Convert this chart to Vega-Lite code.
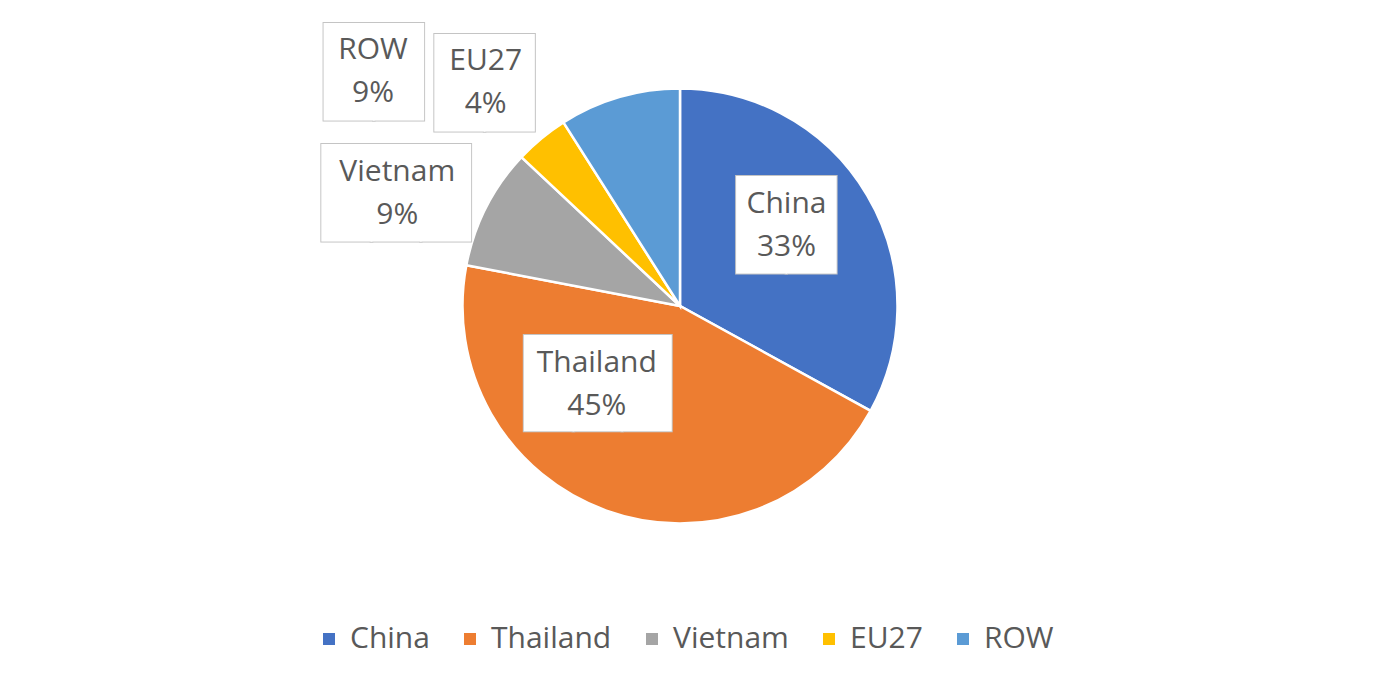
{
  "$schema": "https://vega.github.io/schema/vega-lite/v6.json",
  "width": 1360,
  "height": 612,
  "autosize": {"type": "none"},
  "padding": {"left": 0, "top": 0, "right": 35, "bottom": 66},
  "background": "white",
  "config": {"view": {"stroke": null}},
  "data": {
    "values": [
      {"country": "China", "share": 33, "order": 1, "label": "China\n33%"},
      {"country": "Thailand", "share": 45, "order": 2, "label": "Thailand\n45%"},
      {"country": "Vietnam", "share": 9, "order": 3, "label": "Vietnam\n9%"},
      {"country": "EU27", "share": 4, "order": 4, "label": "EU27\n4%"},
      {"country": "ROW", "share": 9, "order": 5, "label": "ROW\n9%"}
    ]
  },
  "encoding": {
    "theta": {"field": "share", "type": "quantitative", "stack": true},
    "order": {"field": "order", "type": "quantitative"},
    "detail": {"field": "country", "type": "nominal"}
  },
  "layer": [
    {
      "mark": {"type": "arc", "radius": 217.5, "stroke": "white", "strokeWidth": 2.5},
      "encoding": {
        "color": {
          "field": "country",
          "type": "nominal",
          "scale": {
            "domain": ["China", "Thailand", "Vietnam", "EU27", "ROW"],
            "range": ["#4472C4", "#ED7D31", "#A5A5A5", "#FFC000", "#5B9BD5"]
          },
          "legend": {
            "orient": "none",
            "direction": "horizontal",
            "legendX": 314,
            "legendY": 624,
            "title": null,
            "symbolType": "square",
            "symbolSize": 144,
            "symbolStrokeWidth": 0,
            "labelFont": "Open Sans",
            "labelFontSize": 30,
            "labelColor": "#595959",
            "columnPadding": 25,
            "labelOffset": 6
          }
        }
      }
    },
    {
      "mark": {"type": "text", "radius": 133, "dx": -8, "dy": -10, "font": "DejaVu Sans Mono", "fontSize": 82, "fill": "#c4c4c4", "stroke": "#c4c4c4", "strokeWidth": 2, "align": "center", "baseline": "middle"},
      "encoding": {"text": {"condition": {"test": "datum.country === 'China'", "value": "██"}, "value": ""}}
    },
    {
      "mark": {"type": "text", "radius": 133, "dx": -8, "dy": -10, "font": "DejaVu Sans Mono", "fontSize": 82, "fill": "white", "align": "center", "baseline": "middle"},
      "encoding": {"text": {"condition": {"test": "datum.country === 'China'", "value": "██"}, "value": ""}}
    },
    {
      "mark": {"type": "text", "radius": 101, "dx": -48, "dy": -14, "font": "DejaVu Sans Mono", "fontSize": 81, "fill": "#c4c4c4", "stroke": "#c4c4c4", "strokeWidth": 2, "align": "center", "baseline": "middle"},
      "encoding": {"text": {"condition": {"test": "datum.country === 'Thailand'", "value": "███"}, "value": ""}}
    },
    {
      "mark": {"type": "text", "radius": 101, "dx": -48, "dy": -14, "font": "DejaVu Sans Mono", "fontSize": 81, "fill": "white", "align": "center", "baseline": "middle"},
      "encoding": {"text": {"condition": {"test": "datum.country === 'Thailand'", "value": "███"}, "value": ""}}
    },
    {
      "mark": {"type": "text", "radius": 305, "dx": -12, "dy": 28, "font": "DejaVu Sans Mono", "fontSize": 82, "fill": "#c4c4c4", "stroke": "#c4c4c4", "strokeWidth": 2, "align": "center", "baseline": "middle"},
      "encoding": {"text": {"condition": {"test": "datum.country === 'Vietnam'", "value": "███"}, "value": ""}}
    },
    {
      "mark": {"type": "text", "radius": 305, "dx": -12, "dy": 28, "font": "DejaVu Sans Mono", "fontSize": 82, "fill": "white", "align": "center", "baseline": "middle"},
      "encoding": {"text": {"condition": {"test": "datum.country === 'Vietnam'", "value": "███"}, "value": ""}}
    },
    {
      "mark": {"type": "text", "radius": 297, "dx": -6, "dy": 9, "font": "DejaVu Sans Mono", "fontSize": 82, "fill": "#c4c4c4", "stroke": "#c4c4c4", "strokeWidth": 2, "align": "center", "baseline": "middle"},
      "encoding": {"text": {"condition": {"test": "datum.country === 'EU27'", "value": "██"}, "value": ""}}
    },
    {
      "mark": {"type": "text", "radius": 297, "dx": -6, "dy": 9, "font": "DejaVu Sans Mono", "fontSize": 82, "fill": "white", "align": "center", "baseline": "middle"},
      "encoding": {"text": {"condition": {"test": "datum.country === 'EU27'", "value": "██"}, "value": ""}}
    },
    {
      "mark": {"type": "text", "radius": 312, "dx": -219, "dy": 69, "font": "DejaVu Sans Mono", "fontSize": 82, "fill": "#c4c4c4", "stroke": "#c4c4c4", "strokeWidth": 2, "align": "center", "baseline": "middle"},
      "encoding": {"text": {"condition": {"test": "datum.country === 'ROW'", "value": "██"}, "value": ""}}
    },
    {
      "mark": {"type": "text", "radius": 312, "dx": -219, "dy": 69, "font": "DejaVu Sans Mono", "fontSize": 82, "fill": "white", "align": "center", "baseline": "middle"},
      "encoding": {"text": {"condition": {"test": "datum.country === 'ROW'", "value": "██"}, "value": ""}}
    },
    {
      "mark": {"type": "text", "radius": 133, "dx": -8, "dy": -34, "font": "Open Sans", "fontSize": 30, "lineHeight": 43, "lineBreak": "\n", "fill": "#595959", "align": "center", "baseline": "middle"},
      "encoding": {"text": {"condition": {"test": "datum.country === 'China'", "field": "label"}, "value": ""}}
    },
    {
      "mark": {"type": "text", "radius": 101, "dx": -49, "dy": -38, "font": "Open Sans", "fontSize": 30, "lineHeight": 43, "lineBreak": "\n", "fill": "#595959", "align": "center", "baseline": "middle"},
      "encoding": {"text": {"condition": {"test": "datum.country === 'Thailand'", "field": "label"}, "value": ""}}
    },
    {
      "mark": {"type": "text", "radius": 305, "dx": -11, "dy": 4, "font": "Open Sans", "fontSize": 30, "lineHeight": 43, "lineBreak": "\n", "fill": "#595959", "align": "center", "baseline": "middle"},
      "encoding": {"text": {"condition": {"test": "datum.country === 'Vietnam'", "field": "label"}, "value": ""}}
    },
    {
      "mark": {"type": "text", "radius": 297, "dx": -5, "dy": -16, "font": "Open Sans", "fontSize": 30, "lineHeight": 43, "lineBreak": "\n", "fill": "#595959", "align": "center", "baseline": "middle"},
      "encoding": {"text": {"condition": {"test": "datum.country === 'EU27'", "field": "label"}, "value": ""}}
    },
    {
      "mark": {"type": "text", "radius": 312, "dx": -220, "dy": 44, "font": "Open Sans", "fontSize": 30, "lineHeight": 43, "lineBreak": "\n", "fill": "#595959", "align": "center", "baseline": "middle"},
      "encoding": {"text": {"condition": {"test": "datum.country === 'ROW'", "field": "label"}, "value": ""}}
    }
  ]
}
